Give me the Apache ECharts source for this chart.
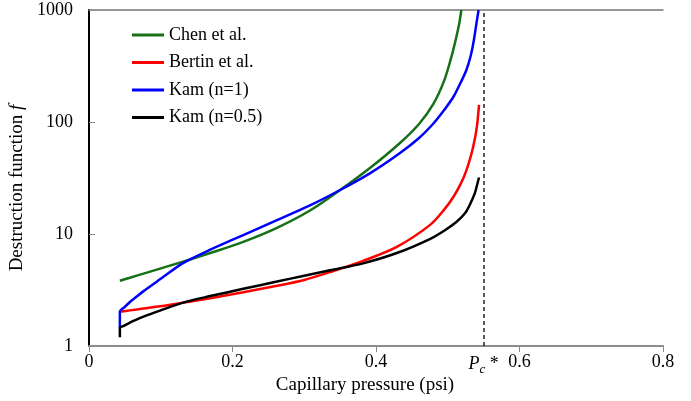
<!DOCTYPE html>
<html><head><meta charset="utf-8">
<script src="https://cdn.jsdelivr.net/npm/echarts@6/dist/echarts.min.js"></script>
<style>html,body{margin:0;padding:0;background:#fff}#c{width:691px;height:401px}</style>
</head><body><div id="c"></div>
<script>
var seriesNames = ['Chen et al.', 'Bertin et al.', 'Kam (n=1)', 'Kam (n=0.5)'];
var xTicks = [0, 0.2, 0.4, 0.6, 0.8];
var yTicks = [1, 10, 100, 1000];
var pcStar = 0.55;

var chenX = [0.043, 0.057, 0.076, 0.099, 0.131, 0.169, 0.215, 0.262, 0.308, 0.350, 0.392, 0.433, 0.460, 0.480, 0.495, 0.505, 0.512, 0.516, 0.519];
var chenY = [3.83, 4.07, 4.43, 4.91, 5.66, 6.76, 8.51, 11.35, 16.2, 24.7, 39, 64.6, 96, 145, 234, 380, 575, 759, 1000];

var bertinX = [0.043, 0.057, 0.076, 0.099, 0.131, 0.169, 0.215, 0.262, 0.300, 0.336, 0.382, 0.429, 0.475, 0.495, 0.508, 0.518, 0.526, 0.533, 0.538, 0.541, 0.5436];
var bertinY = [2.02, 2.08, 2.16, 2.26, 2.44, 2.67, 3.02, 3.45, 3.89, 4.57, 5.75, 7.67, 12.0, 16.5, 21.5, 28, 37, 52, 72, 95, 142];

var kam1X = [0.043, 0.043, 0.050, 0.057, 0.066, 0.076, 0.099, 0.131, 0.169, 0.197, 0.215, 0.262, 0.308, 0.350, 0.392, 0.433, 0.460, 0.480, 0.495, 0.508, 0.518, 0.526, 0.532, 0.536, 0.540, 0.543];
var kam1Y = [1.44, 2.02, 2.24, 2.47, 2.75, 3.09, 3.94, 5.5, 7.24, 8.71, 9.77, 13.3, 18.0, 24.7, 35, 52.6, 72, 97, 128, 168, 225, 291, 390, 520, 760, 1000];

var kam05X = [0.043, 0.043, 0.050, 0.057, 0.066, 0.076, 0.099, 0.131, 0.169, 0.215, 0.262, 0.300, 0.336, 0.382, 0.429, 0.475, 0.495, 0.512, 0.524, 0.531, 0.538, 0.5436];
var kam05Y = [1.2, 1.44, 1.53, 1.62, 1.72, 1.83, 2.07, 2.44, 2.79, 3.24, 3.76, 4.24, 4.74, 5.47, 6.76, 9.02, 10.7, 12.8, 15.3, 18.4, 23.4, 32.1];

function pairs(xs, ys) { return xs.map(function (x, i) { return [x, ys[i]]; }); }

var FONT = '"Liberation Serif", "Times New Roman", "DejaVu Serif", serif';
var colors = ['#167016', '#ff0000', '#0000ff', '#000000'];
var dataSets = [pairs(chenX, chenY), pairs(bertinX, bertinY), pairs(kam1X, kam1Y), pairs(kam05X, kam05Y)];

var series = seriesNames.map(function (n, i) {
  return {
    name: n, type: 'line', data: dataSets[i], showSymbol: false, smooth: 0.3,
    lineStyle: { color: colors[i], width: 2.5 }, itemStyle: { color: colors[i] },
    xAxisIndex: 0, yAxisIndex: 0, z: 3
  };
});
series[0].markLine = {
  silent: true, symbol: 'none',
  lineStyle: { color: '#222', type: [4, 3], width: 1.5 },
  label: {
    show: true, position: 'start', distance: 6,
    formatter: '{p|P}{c|c}{s| *}',
    rich: {
      p: { fontFamily: FONT, fontSize: 18, fontStyle: 'italic', color: '#000' },
      c: { fontFamily: FONT, fontSize: 13, fontStyle: 'italic', color: '#000', padding: [11, 0, 0, 0] },
      s: { fontFamily: FONT, fontSize: 18, color: '#000' }
    }
  },
  data: [{ xAxis: pcStar }]
};

var chart = echarts.init(document.getElementById('c'), null, { renderer: 'canvas' });
chart.setOption({
  animation: false,
  backgroundColor: '#fff',
  textStyle: { fontFamily: FONT },
  grid: { left: 89, right: 28, top: 10, bottom: 55, outerBoundsMode: 'none', containLabel: false },
  legend: {
    orient: 'vertical', left: 132, top: 26, padding: 0, itemWidth: 32, itemHeight: 3, itemGap: 9.5,
    icon: 'rect',
    textStyle: { fontFamily: FONT, fontSize: 18, color: '#000' },
    data: seriesNames
  },
  xAxis: [{
    type: 'value', min: xTicks[0], max: xTicks[xTicks.length - 1], interval: 0.2,
    name: 'Capillary pressure (psi)', nameLocation: 'middle', nameGap: 19,
    nameTextStyle: { fontFamily: FONT, fontSize: 19, color: '#000', padding: [0, 22, 0, 0] },
    axisLine: { lineStyle: { color: '#8c8c8c', width: 2 } },
    axisTick: { show: true, inside: false, length: 6, lineStyle: { color: '#8c8c8c', width: 1 } },
    axisLabel: { fontFamily: FONT, fontSize: 18, color: '#000', margin: 7, formatter: function (v) { return String(v); } },
    splitLine: { show: false }
  }, {
    type: 'value', position: 'top', min: 0, max: 0.8,
    axisLine: { show: true, lineStyle: { color: '#777', width: 1.5 } },
    axisTick: { show: false }, axisLabel: { show: false }, splitLine: { show: false }
  }],
  yAxis: [{
    type: 'log', logBase: 10, min: yTicks[0], max: yTicks[yTicks.length - 1],
    name: 'Destruction function {i|f}', nameLocation: 'middle', nameGap: 57, nameRotate: 90,
    nameTextStyle: { fontFamily: FONT, fontSize: 19, color: '#000', padding: [0, 20, 0, 0],
      rich: { i: { fontFamily: FONT, fontSize: 19, fontStyle: 'italic', color: '#000' } } },
    axisLine: { show: true, lineStyle: { color: '#000', width: 2 } },
    axisTick: { show: true, inside: true, length: 6, lineStyle: { color: '#8c8c8c', width: 1 } },
    minorTick: { show: false },
    axisLabel: { fontFamily: FONT, fontSize: 18, color: '#000', margin: 16, formatter: function (v) { return String(Math.round(v)); } },
    splitLine: { show: false }
  }, {
    type: 'log', logBase: 10, min: 1, max: 1000, position: 'right',
    axisLine: { show: true, lineStyle: { color: '#000', width: 1.5 } },
    axisTick: { show: false }, axisLabel: { show: false }, splitLine: { show: false }
  }],
  series: series
});
</script></body></html>
